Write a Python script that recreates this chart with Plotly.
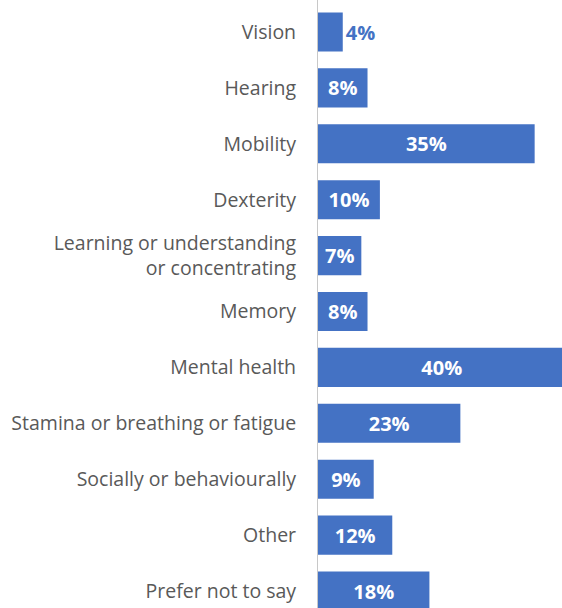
import plotly.graph_objects as go

categories = ["Vision", "Hearing", "Mobility", "Dexterity",
              "Learning or understanding<br>or concentrating", "Memory",
              "Mental health", "Stamina or breathing or fatigue",
              "Socially or behaviourally", "Other", "Prefer not to say"]
values = [4, 8, 35, 10, 7, 8, 40, 23, 9, 12, 18]
labels = [f"{v}%" for v in values]

BLUE = "#4472C4"
pos = list(range(len(categories)))
textpos = ["outside" if v < 5 else "inside" for v in values]
textcol = [BLUE if v < 5 else "white" for v in values]

fig = go.Figure(go.Bar(
    x=values, y=pos, orientation="h",
    marker=dict(color=BLUE, line=dict(width=0)),
    width=0.7,
    text=labels, textposition=textpos,
    insidetextanchor="middle",
    textfont=dict(family="Open Sans", size=20, color=textcol, weight="bold"),
    constraintext="none", cliponaxis=False,
))

fig.update_layout(
    width=570, height=608,
    margin=dict(l=318, r=0, t=0, b=0, autoexpand=False),
    paper_bgcolor="white", plot_bgcolor="white",
    showlegend=False,
    xaxis=dict(range=[0, 40.71], visible=False, fixedrange=True, automargin=False),
    yaxis=dict(range=[10.304, -0.5725], tickvals=pos, ticktext=categories,
               showline=True, linecolor="#c8c8c8", linewidth=1,
               showgrid=False, zeroline=False, ticks="", automargin=False,
               ticklabelstandoff=17, fixedrange=True,
               tickfont=dict(family="Open Sans", size=19.5, color="#595959")),
)

fig.write_html("out.html",
               config={"displayModeBar": False, "staticPlot": True},
               post_script="document.body.style.margin='0';document.body.style.overflow='hidden';")
